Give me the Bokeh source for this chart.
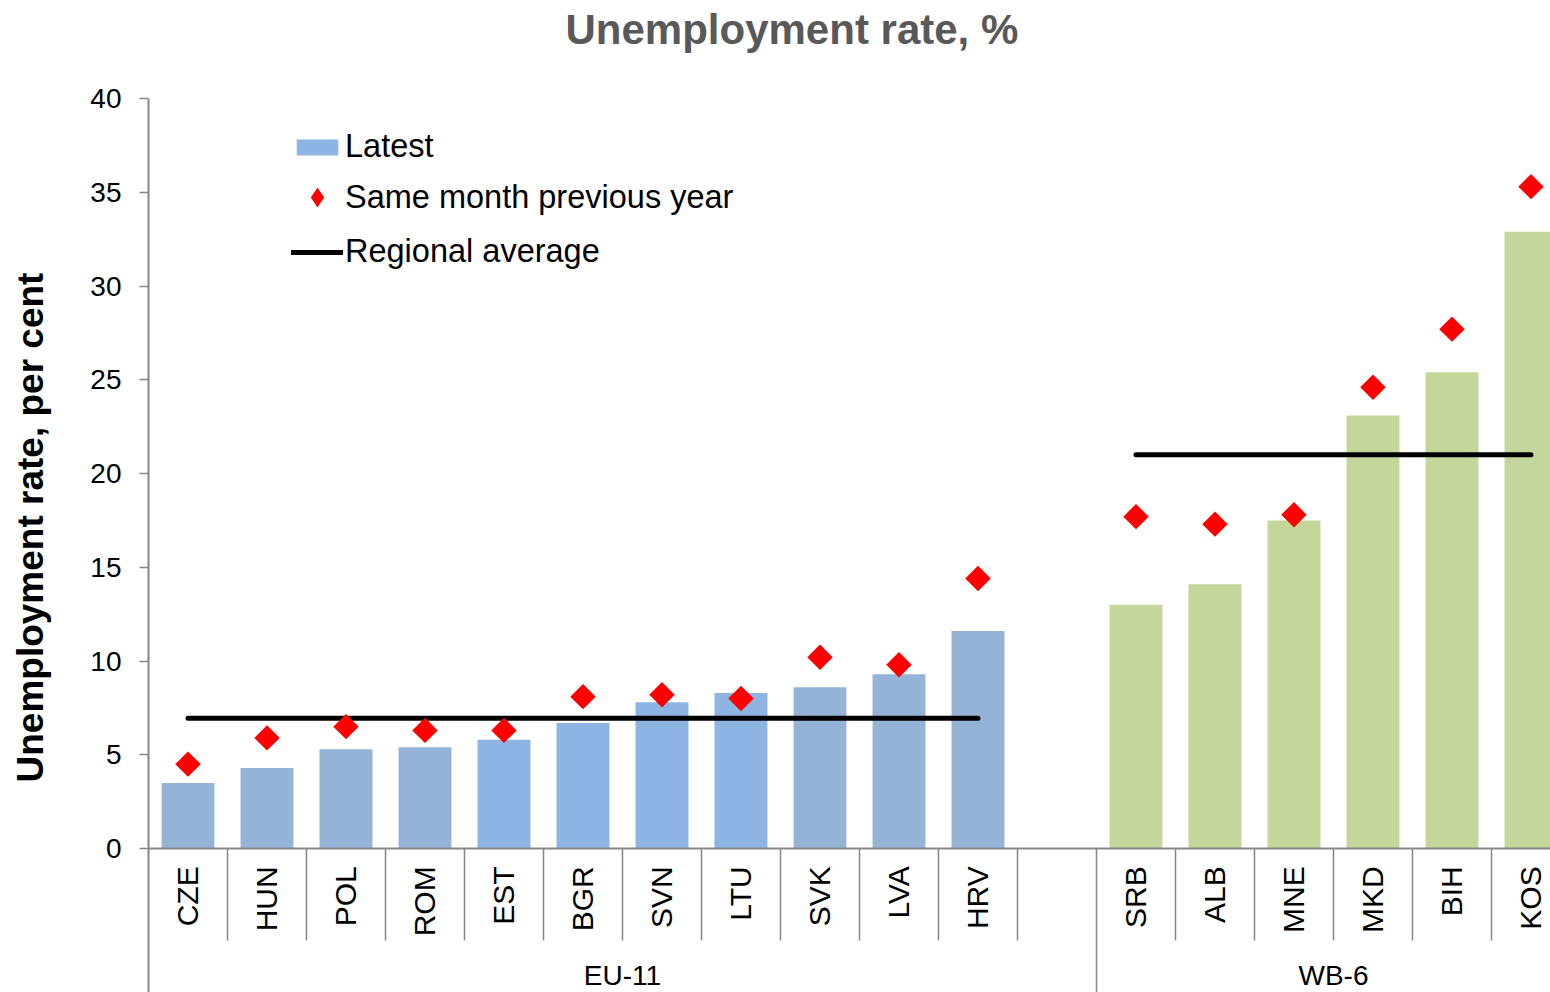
import math
import numpy as np
from bokeh.plotting import figure
from bokeh.models import (Range1d, FixedTicker, Span, ColumnDataSource, Legend, LegendItem, Title)
from bokeh.core.properties import value
from bokeh.embed import file_html
from bokeh.resources import INLINE

# ---------------- data ----------------
eu_countries = ["CZE", "HUN", "POL", "ROM", "EST", "BGR", "SVN", "LTU", "SVK", "LVA", "HRV"]
eu_latest = [3.5, 4.3, 5.3, 5.4, 5.8, 6.7, 7.8, 8.3, 8.6, 9.3, 11.6]
eu_prev_year = [4.5, 5.9, 6.5, 6.3, 6.3, 8.1, 8.2, 8.0, 10.2, 9.8, 14.4]
eu_average = 6.95

wb_countries = ["SRB", "ALB", "MNE", "MKD", "BIH", "KOS"]
wb_latest = [13.0, 14.1, 17.5, 23.1, 25.4, 32.9]
wb_prev_year = [17.7, 17.3, 17.8, 24.6, 27.7, 35.3]
wb_average = 21.0

groups = ["EU-11", "WB-6"]
y_ticks = [0, 5, 10, 15, 20, 25, 30, 35, 40]

# ---------------- styles ----------------
FONT = "Liberation Sans"
AXIS_GREY = "#868686"
BLUE_GREY = "#95B3D7"
BLUE_BRIGHT = "#8DB4E2"
GREEN = "#C4D79B"
bright_set = {"EST", "BGR", "SVN", "LTU"}

# slot layout: EU countries, one empty slot, WB countries
n_eu = len(eu_countries)
gap = 1
wb_start = n_eu + gap
n_slots = n_eu + gap + len(wb_countries)

eu_x = [i + 0.5 for i in range(n_eu)]
wb_x = [wb_start + j + 0.5 for j in range(len(wb_countries))]

x_end = 17.747
y_bottom = -7.68

p = figure(width=1550, height=992, output_backend="svg", toolbar_location=None,
           x_range=Range1d(0, x_end), y_range=Range1d(y_bottom, 40),
           min_border_left=148, min_border_right=0, min_border_top=0, min_border_bottom=0)
p.outline_line_color = None
p.grid.visible = False
p.xaxis.visible = False
p.background_fill_color = "white"
p.border_fill_color = "white"

# spacer between title and plot frame
p.add_layout(Title(text=" ", text_font_size="10px", standoff=30), "above")

# title
p.title.text = "Unemployment rate, %"
p.title.text_font = FONT
p.title.text_font_size = "42px"
p.title.text_font_style = "bold"
p.title.text_color = "#595959"
p.title.align = "left"
p.title.offset = 417
p.title.standoff = 6

# y axis
ya = p.yaxis[0]
ya.ticker = FixedTicker(ticks=y_ticks)
ya.minor_tick_line_color = None
ya.major_tick_in = 0
ya.major_tick_out = 9
ya.major_tick_line_color = AXIS_GREY
ya.major_tick_line_width = 1.5
ya.axis_line_color = AXIS_GREY
ya.axis_line_width = 2
ya.major_label_text_font = FONT
ya.major_label_text_font_size = "28px"
ya.major_label_text_color = "black"
ya.major_label_standoff = 18

# y axis title (placed as a side title so it can sit over the 0-40 scale)
p.add_layout(Title(text=" ", text_font_size="10px", standoff=22), "left")
p.add_layout(Title(text="Unemployment rate, per cent", text_font=FONT, text_font_size="37px",
                   text_font_style="bold", text_color="black", align="left", offset=210,
                   standoff=4), "left")

# bars
eu_src = ColumnDataSource(dict(x=eu_x, top=eu_latest, prev=eu_prev_year,
                               color=[BLUE_BRIGHT if c in bright_set else BLUE_GREY for c in eu_countries]))
wb_src = ColumnDataSource(dict(x=wb_x, top=wb_latest, prev=wb_prev_year))

bar_eu = p.vbar(x="x", top="top", bottom=0, width=0.67, source=eu_src, fill_color="color", line_color=None)
p.vbar(x="x", top="top", bottom=0, width=0.67, source=wb_src, fill_color=GREEN, line_color=None)

# x axis line at zero
p.add_layout(Span(location=0, dimension="width", line_color=AXIS_GREY, line_width=2))

# regional averages
avg_eu = p.line(x=[eu_x[0], eu_x[-1]], y=[eu_average, eu_average], line_color="black",
                line_width=5, line_cap="round")
p.line(x=[wb_x[0], wb_x[-1]], y=[wb_average, wb_average], line_color="black",
       line_width=5, line_cap="round")

# previous-year markers (diamonds = squares turned by 45 degrees)
p.scatter(x="x", y="prev", source=eu_src, marker="square", angle=math.pi / 4,
          size=18, fill_color="#FF0000", line_color=None)
p.scatter(x="x", y="prev", source=wb_src, marker="square", angle=math.pi / 4,
          size=18, fill_color="#FF0000", line_color=None)
# legend-only diamond glyph (NaN position, never drawn in the plot)
dia_legend = p.scatter(x=np.array([np.nan]), y=np.array([np.nan]), marker="diamond",
                       fill_color="#FF0000", line_color=None)

# category separators
sep_x = list(range(1, n_slots))
sep_y1 = [y_bottom if b == wb_start else -4.9 for b in sep_x]
p.segment(x0=sep_x, y0=[0] * len(sep_x), x1=sep_x, y1=sep_y1, line_color=AXIS_GREY, line_width=1.5)

# category labels
p.text(x=eu_x + wb_x, y=[-0.95] * (n_eu + len(wb_countries)), text=eu_countries + wb_countries,
       angle=math.pi / 2, text_align="right", text_baseline="middle",
       text_font=value(FONT), text_font_size="30px", text_color="black")

# group labels
p.text(x=[wb_start / 2, (wb_start + n_slots) / 2],
       y=[-6.77, -6.77], text=groups, text_align="center", text_baseline="middle",
       text_font=value(FONT), text_font_size="28px", text_color="black")

# legends (one per item to control glyph sizes)
def make_legend(label, renderer, gh, center_px, index=None):
    item = LegendItem(label=label, renderers=[renderer], index=index)
    h = max(gh, 40)
    lg = Legend(items=[item], location=(143, 992 - center_px - h / 2), orientation="vertical",
                glyph_width=52, glyph_height=gh, label_standoff=2, padding=0, margin=0,
                border_line_color=None, background_fill_alpha=0,
                label_text_font=FONT, label_text_font_size="32.5px", label_text_color="black",
                label_height=20)
    p.add_layout(lg, "center")

make_legend("Latest", bar_eu, 20, 145, index=4)
make_legend("Same month previous year", dia_legend, 50, 197, index=0)
make_legend("Regional average", avg_eu, 20, 250)

open("out.html", "w").write(file_html(p, INLINE))
